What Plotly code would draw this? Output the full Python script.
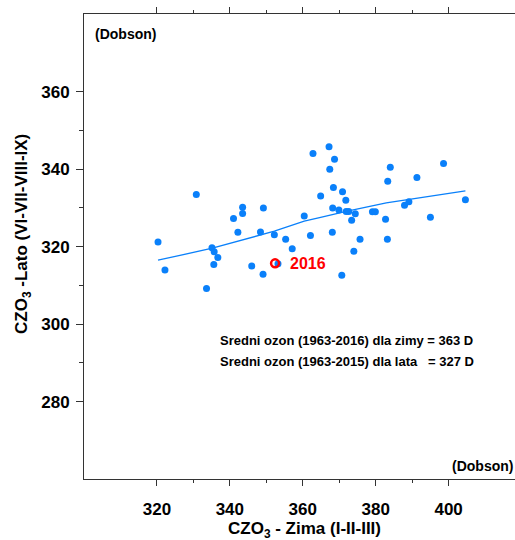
import plotly.graph_objects as go

# Seasonal total ozone (Dobson units): winter mean (I-II-III) vs summer mean (VI-VII-VIII-IX)
winter = [320.3, 322.2, 330.8, 333.6, 335.1, 335.7, 336.7, 335.6, 341.0, 342.2,
          343.5, 343.5, 346.0, 349.2, 348.4, 349.1, 352.2, 355.3, 357.1, 360.4,
          362.1, 364.9, 362.8, 367.2, 367.4, 368.7, 368.4, 370.9, 371.8, 368.2,
          369.9, 371.9, 372.6, 374.4, 373.4, 368.1, 375.7, 374.0, 370.7, 379.1,
          379.9, 382.7, 383.3, 384.0, 383.2, 387.9, 389.1, 391.3, 395.0, 398.6,
          404.6, 353.2]
summer = [321.2, 314.0, 333.5, 309.2, 319.7, 318.7, 317.2, 315.4, 327.3, 323.7,
          330.2, 328.6, 315.0, 330.0, 323.8, 312.9, 323.1, 321.9, 319.5, 327.9,
          322.9, 333.1, 344.1, 345.8, 340.0, 342.6, 335.3, 334.2, 332.0, 330.0,
          329.5, 329.1, 329.1, 328.5, 326.8, 323.7, 321.9, 318.8, 312.6, 329.0,
          329.0, 327.1, 336.9, 340.5, 321.9, 330.7, 331.6, 337.9, 327.6, 341.5,
          332.1, 315.6]

# Smoothed trend through the scatter
trend_x = [320.3, 335.2, 352.2, 360.4, 364.6, 371.9, 382.9, 389.1, 404.6]
trend_y = [316.5, 319.6, 324.0, 326.6, 327.5, 329.1, 331.3, 332.2, 334.4]

# Highlighted 2016 winter value
year_label = "2016"
year_x = [352.4]
year_y = [315.7]

x_ticks = [320, 340, 360, 380, 400]
y_ticks = [280, 300, 320, 340, 360]
x_range = [300, 418.2]
y_range = [260, 380.1]

BLUE = "#0A80FA"
FONT = "Liberation Sans"
AXIS_COLOR = "#333333"
label_font = dict(family=FONT, size=17, color="black", weight="bold")

fig = go.Figure()
# trend line on the base axes, points on the overlaid label axes (drawn on top)
fig.add_trace(go.Scatter(x=trend_x, y=trend_y, mode="lines",
                         line=dict(color=BLUE, width=1.3),
                         hoverinfo="skip", xaxis="x", yaxis="y"))
fig.add_trace(go.Scatter(x=winter, y=summer, mode="markers",
                         marker=dict(color=BLUE, size=7), xaxis="x2", yaxis="y2"))
fig.add_trace(go.Scatter(x=year_x, y=year_y, mode="markers",
                         marker=dict(symbol="circle-open", color="#FF0000", size=8,
                                     line=dict(color="#FF0000", width=2.5)),
                         xaxis="x2", yaxis="y2"))

fig.add_annotation(x=year_x[0], y=year_y[0], xref="x2", yref="y2",
                   text=year_label, showarrow=False,
                   xanchor="left", yanchor="middle", xshift=13,
                   font=dict(family=FONT, size=16, color="#FF0000", weight="bold"))

fig.add_annotation(xref="paper", yref="paper", x=0.022, y=0.958,
                   text="(Dobson)", showarrow=False, xanchor="left", yanchor="middle",
                   font=dict(family=FONT, size=14, color="black", weight="bold"))
fig.add_annotation(xref="paper", yref="paper", x=1.0, y=0.028,
                   text="(Dobson)", showarrow=False, xanchor="right", yanchor="middle",
                   font=dict(family=FONT, size=14, color="black", weight="bold"))

fig.add_annotation(xref="paper", yref="paper", x=0.31, y=0.297,
                   text="Sredni ozon (1963-2016) dla zimy = 363 D",
                   showarrow=False, xanchor="left", yanchor="middle",
                   font=dict(family=FONT, size=13, color="black", weight="bold"))
fig.add_annotation(xref="paper", yref="paper", x=0.31, y=0.252,
                   text="Sredni ozon (1963-2015) dla lata\u00a0\u00a0\u00a0= 327 D",
                   showarrow=False, xanchor="left", yanchor="middle",
                   font=dict(family=FONT, size=13, color="black", weight="bold"))

# axis titles
fig.add_annotation(xref="paper", yref="paper", x=0.5116, y=-0.1097,
                   text="CZO<sub>3</sub> - Zima (I-II-III)", showarrow=False,
                   xanchor="center", yanchor="middle", font=label_font)
fig.add_annotation(xref="paper", yref="paper", x=-0.1415, y=0.527,
                   text="CZO<sub>3</sub> -Lato (VI-VII-VIII-IX)", showarrow=False,
                   textangle=-90, xanchor="center", yanchor="middle", font=label_font)

# base axes: lines and tick marks
fig.update_layout(
    xaxis=dict(range=x_range, tickvals=x_ticks, showgrid=False, zeroline=False,
               showline=True, linecolor=AXIS_COLOR, linewidth=1, mirror="ticks",
               ticks="outside", ticklen=6, tickcolor=AXIS_COLOR, showticklabels=False,
               minor=dict(ticks="outside", ticklen=3, tickvals=[330, 350, 370, 390],
                          tickcolor=AXIS_COLOR)),
    yaxis=dict(range=y_range, tickvals=y_ticks, showgrid=False, zeroline=False,
               showline=True, linecolor=AXIS_COLOR, linewidth=1,
               ticks="outside", ticklen=7, tickcolor=AXIS_COLOR, showticklabels=False,
               minor=dict(ticks="outside", ticklen=4, tickvals=[290, 310, 330, 350],
                          tickcolor=AXIS_COLOR)),
    # overlaid axes carrying the tick labels, set further from the frame
    xaxis2=dict(range=x_range, tickvals=x_ticks, overlaying="x", side="bottom",
                showgrid=False, zeroline=False, showline=False,
                ticks="outside", ticklen=15, tickcolor="rgba(0,0,0,0)",
                tickfont=label_font),
    yaxis2=dict(range=y_range, tickvals=y_ticks, overlaying="y", side="left",
                showgrid=False, zeroline=False, showline=False,
                ticks="outside", ticklen=10, tickcolor="rgba(0,0,0,0)",
                tickfont=label_font),
    width=515, height=540, showlegend=False,
    margin=dict(l=84, r=0, t=14, b=61),
    paper_bgcolor="white", plot_bgcolor="white",
    font=dict(family=FONT, color="black"),
)

fig.write_html("out.html")
